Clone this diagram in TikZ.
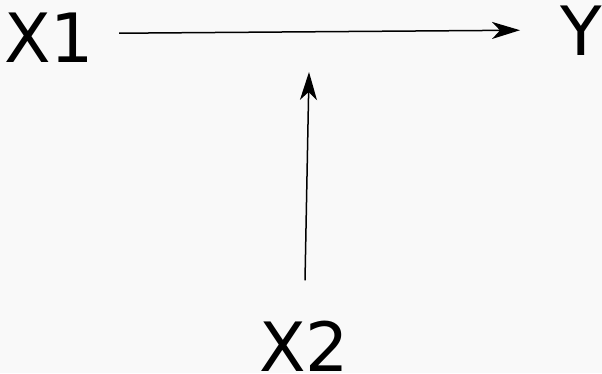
\documentclass[tikz,border=0pt]{standalone}
\usepackage{fontspec}
\setmainfont{DejaVu Sans}
\usepackage{xcolor}
\usetikzlibrary{arrows.meta,calc}
\definecolor{paper}{RGB}{249,249,249}

\begin{document}
\begin{tikzpicture}[x=1pt, y=-1pt, >={Stealth[length=28pt, width=17pt, inset=8pt]},
    var/.style={inner sep=0pt, anchor=base, font=\fontsize{68}{68}\selectfont},
    link/.style={->, line width=1.5pt}]
    % Background
    \fill[paper] (0,0) rectangle (602,373);
    \useasboundingbox (0,0) rectangle (602,373);

    % Variables
    \node[var] (x1) at (49,62) {X1};
    \node[var] (y) at (581,55) {Y};
    \node[var] (x2) at (304,371) {X2};
    \coordinate (mid) at (309,72);

    % Arrows
    \draw[link] ([shift={(25pt,4pt)}]x1.east) -- ([shift={(-40pt,0pt)}]y.west);
    \draw[link] ([shift={(1pt,40pt)}]x2.north) -- (mid);
\end{tikzpicture}
\end{document}
